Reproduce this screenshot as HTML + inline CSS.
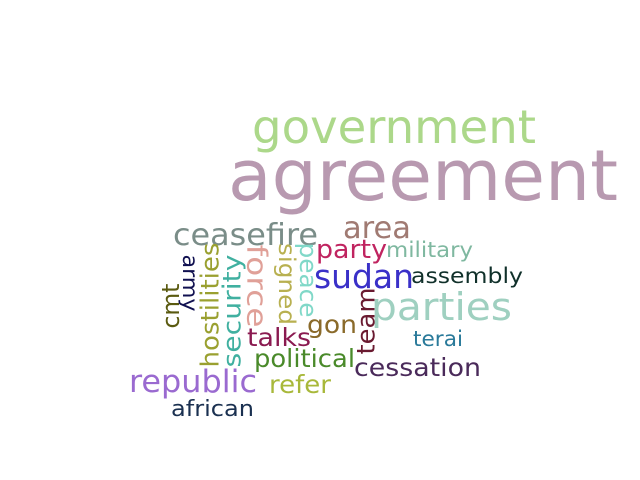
<!DOCTYPE html>
<html><head><meta charset="utf-8"><style>
html,body{margin:0;padding:0;background:#fff;}
svg{display:block;font-family:"DejaVu Sans","Liberation Sans",sans-serif;}
</style></head><body>
<svg id="cloud" width="640" height="480" viewBox="0 0 640 480"></svg>
<script>
const words = ["agreement","government","ceasefire","area","party","military","sudan","assembly","parties","gon","terai","talks","political","cessation","republic","refer","african","cmt","army","hostilities","security","force","signed","peace","team"];
const sizes = [70,46,30,30,26,21,33,21,38,25,21,25,25,25,31,25,22,24,21,25,25,28,23,24,25];
const colors = ["#b899b0","#acd88a","#7a8d88","#a07a72","#c02460","#7fb8a0","#3a30c8","#10302a","#9fd0c0","#8a6a2a","#2a7a9a","#8a1a50","#4a8a2a","#4a2a5a","#9a6ad0","#a8b83a","#1a3050","#5a5a10","#101050","#9aa030","#40b0a0","#e0a098","#b8b050","#80d8c8","#6a1a30"];
// layout: [x, y, rotation, length]; horizontal: x=left, y=baseline; vertical: x,y=center
const layout = [
[228,200,0,390],[252,143,0,284],[173,245,0,145],[343,238,0,68],[316,258,0,71],[386,257,0,87],
[314,288,0,100],[411,283,0,112],[371,320,0,141],[307,333,0,50],[413,346,0,50],[247,346,0,64],
[254,367,0,101],[354,376,0,127],[129,392,0,128],[269,393,0,62],[171,416,0,83],
[171,306,-90,45],[190,283,90,57],[210,305,-90,125],[232,311,-90,113],[257,286,90,83],
[286,284,90,82],[308,280,90,75],[366,321,-90,67]
];
const svg = document.getElementById('cloud');
const NS = 'http://www.w3.org/2000/svg';
words.forEach((w,i)=>{
  const [x,y,r,len] = layout[i];
  const t = document.createElementNS(NS,'text');
  t.textContent = w;
  t.setAttribute('font-size', sizes[i]);
  t.setAttribute('fill', colors[i]);
  t.setAttribute('textLength', len);
  t.setAttribute('lengthAdjust', 'spacingAndGlyphs');
  if (r === 0) {
    t.setAttribute('x', x);
    t.setAttribute('y', y);
  } else {
    t.setAttribute('x', x);
    t.setAttribute('y', y);
    t.setAttribute('text-anchor', 'middle');
    t.setAttribute('dominant-baseline', 'central');
    t.setAttribute('transform', 'rotate(' + r + ' ' + x + ' ' + y + ')');
  }
  
  
  svg.appendChild(t);
});
</script>
</body></html>
